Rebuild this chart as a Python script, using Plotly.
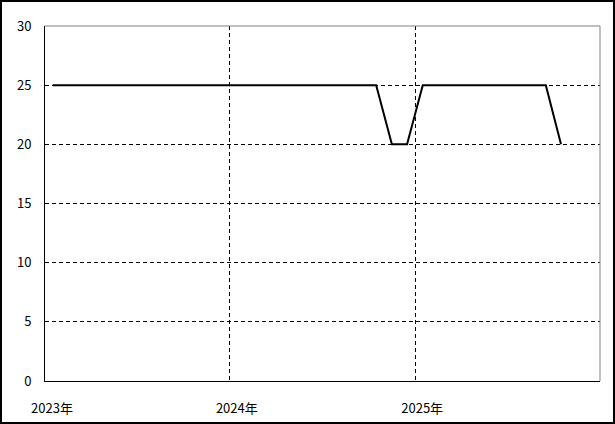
import plotly.graph_objects as go

dates = [f"{y}-{m:02d}-16" for y in (2023, 2024, 2025) for m in range(1, 13)][:34]
values = [25] * 22 + [20, 20] + [25] * 9 + [20]
tick_vals = ["2023-01-01", "2024-01-01", "2025-01-01"]
tick_text = ["2023年", "2024年", "2025年"]
y_ticks = [0, 5, 10, 15, 20, 25, 30]

W, H = 615, 424
L, R, T, B = 45, 15, 26, 43
pw, ph = W - L - R, H - T - B

fig = go.Figure(go.Scatter(x=dates, y=values, mode="lines",
                           line=dict(color="black", width=2), hoverinfo="skip"))

font = dict(family="Noto Sans CJK JP, DejaVu Sans, sans-serif", size=13, color="black")

fig.update_layout(
    width=W, height=H, margin=dict(l=L, r=R, t=T, b=B, autoexpand=False),
    paper_bgcolor="white", plot_bgcolor="white", showlegend=False, font=font,
    xaxis=dict(type="date", range=["2023-01-01", "2026-01-01"], tickmode="array",
               tickvals=tick_vals, ticktext=tick_text, showgrid=True,
               gridcolor="black", griddash="4px,3px", gridwidth=1,
               showline=True, linecolor="black", linewidth=1, ticks="",
               ticklabelshift=7, ticklabelstandoff=15, zeroline=False,
               automargin=False),
    yaxis=dict(range=[0, 30], tickmode="array", tickvals=y_ticks, showgrid=True,
               gridcolor="black", griddash="4px,3px", gridwidth=1,
               showline=True, linecolor="black", linewidth=1, ticks="",
               ticklabelstandoff=10, zeroline=False, automargin=False),
    shapes=[
        dict(type="line", xref="paper", yref="paper", x0=0, x1=1, y0=1, y1=1,
             line=dict(color="gray", width=1), layer="above"),
        dict(type="line", xref="paper", yref="paper", x0=1, x1=1, y0=0, y1=1,
             line=dict(color="gray", width=1), layer="above"),
        dict(type="rect", xref="paper", yref="paper",
             x0=(-L + 1) / pw, x1=(W - L - 1) / pw,
             y0=(-B + 1) / ph, y1=(H - B - 1) / ph,
             line=dict(color="black", width=2), layer="above"),
    ],
)

fig.write_html("out.html", config={"staticPlot": True},
               post_script="document.body.style.margin='0';document.body.style.overflow='hidden';")
